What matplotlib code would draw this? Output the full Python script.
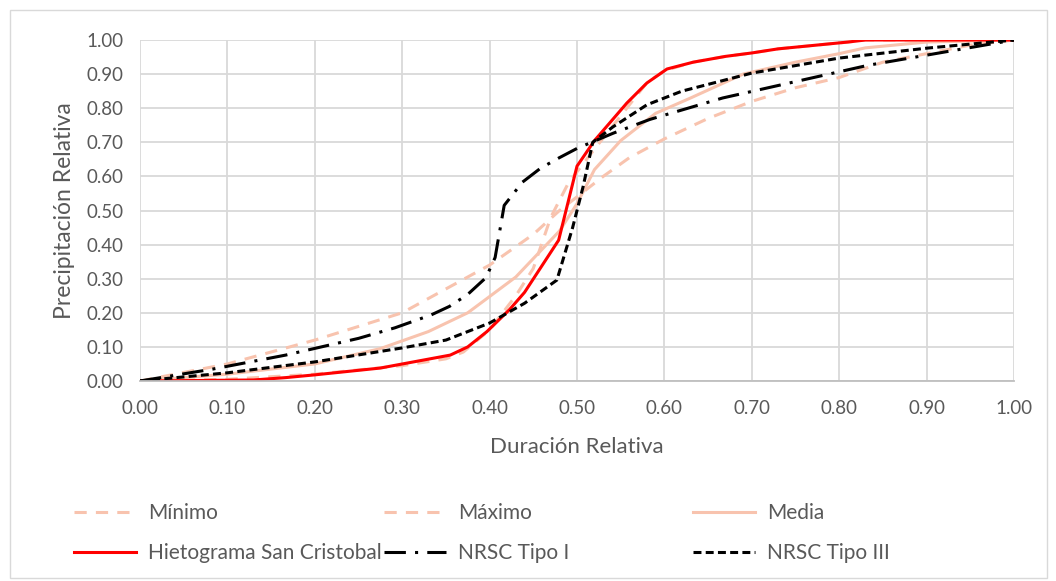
import matplotlib
matplotlib.use("Agg")
import matplotlib.pyplot as plt
from matplotlib.patches import Rectangle

# ---- data ----
x_min = [0.0, 0.10, 0.20, 0.30, 0.35, 0.40, 0.45, 0.48, 0.50, 0.53, 0.56, 0.60, 0.65, 0.70, 0.75, 0.80, 0.85, 0.90, 0.95, 1.0]
y_min = [0.0, 0.05, 0.12, 0.20, 0.27, 0.34, 0.43, 0.50, 0.54, 0.60, 0.655, 0.71, 0.77, 0.82, 0.86, 0.89, 0.935, 0.96, 0.985, 1.0]

x_max = [0.0, 0.10, 0.20, 0.30, 0.35, 0.37, 0.40, 0.43, 0.45, 0.47, 0.49, 0.52, 0.56, 0.58, 0.60, 0.633, 0.67, 0.70, 0.73, 0.81, 0.83, 1.0]
y_max = [0.0, 0.005, 0.02, 0.045, 0.065, 0.085, 0.15, 0.25, 0.33, 0.48, 0.58, 0.68, 0.81, 0.875, 0.91, 0.935, 0.952, 0.962, 0.974, 0.994, 1.0, 1.0]

x_media = [0.0, 0.10, 0.20, 0.275, 0.33, 0.375, 0.43, 0.48, 0.50, 0.52, 0.55, 0.59, 0.63, 0.69, 0.75, 0.80, 0.83, 0.90, 1.0]
y_media = [0.0, 0.02, 0.05, 0.095, 0.145, 0.20, 0.305, 0.44, 0.52, 0.62, 0.705, 0.785, 0.83, 0.90, 0.935, 0.96, 0.977, 0.994, 1.0]

x_hiet = [0.0, 0.13, 0.167, 0.20, 0.275, 0.355, 0.375, 0.397, 0.423, 0.44, 0.479, 0.50, 0.52, 0.557, 0.58, 0.603, 0.633, 0.67, 0.70, 0.73, 0.81, 0.83, 1.0]
y_hiet = [0.0, 0.003, 0.01, 0.018, 0.038, 0.076, 0.10, 0.145, 0.21, 0.26, 0.413, 0.63, 0.705, 0.815, 0.874, 0.915, 0.935, 0.952, 0.962, 0.974, 0.994, 1.0, 1.0]

x_tipo1 = [0.0, 0.0833, 0.1667, 0.25, 0.2917, 0.3333, 0.3542, 0.375, 0.3958, 0.4063, 0.4167, 0.4375, 0.4583, 0.4792, 0.50, 0.5417, 0.5833, 0.6667, 0.8333, 1.0]
y_tipo1 = [0.0, 0.035, 0.076, 0.125, 0.156, 0.194, 0.219, 0.254, 0.303, 0.362, 0.515, 0.583, 0.624, 0.654, 0.682, 0.727, 0.767, 0.830, 0.926, 1.0]

x_tipo3 = [0.0, 0.10, 0.20, 0.30, 0.35, 0.40, 0.44, 0.477, 0.495, 0.507, 0.518, 0.541, 0.58, 0.62, 0.70, 0.80, 0.90, 1.0]
y_tipo3 = [0.0, 0.024, 0.056, 0.097, 0.12, 0.17, 0.228, 0.296, 0.45, 0.57, 0.70, 0.745, 0.81, 0.85, 0.903, 0.947, 0.976, 1.0]

x_ticks = [0.0, 0.1, 0.2, 0.3, 0.4, 0.5, 0.6, 0.7, 0.8, 0.9, 1.0]
y_ticks = [0.0, 0.1, 0.2, 0.3, 0.4, 0.5, 0.6, 0.7, 0.8, 0.9, 1.0]

plt.rcParams['font.family'] = ['Lato', 'DejaVu Sans']

W, H = 1056, 581
fig = plt.figure(figsize=(W / 100, H / 100), dpi=100)
ax = fig.add_axes([140 / W, 1 - 381 / H, (1014 - 140) / W, (381 - 40) / H])

pale = '#f8c3ae'
lw = 2.2
l_min, = ax.plot(x_min, y_min, color=pale, lw=lw, dashes=(4, 3), label='Mínimo')
l_max, = ax.plot(x_max, y_max, color=pale, lw=lw, dashes=(4, 3), label='Máximo')
l_med, = ax.plot(x_media, y_media, color=pale, lw=lw, label='Media')
l_hie, = ax.plot(x_hiet, y_hiet, color='#ff0000', lw=lw, label='Hietograma San Cristobal')
l_t1, = ax.plot(x_tipo1, y_tipo1, color='black', lw=lw, dashes=(7, 3, 1, 3), label='NRSC Tipo I')
l_t3, = ax.plot(x_tipo3, y_tipo3, color='black', lw=lw, dashes=(2.6, 1.4), label='NRSC Tipo III')

ax.set_xlim(0, 1)
ax.set_ylim(0, 1)
ax.set_xticks(x_ticks)
ax.set_yticks(y_ticks)
ax.set_xticklabels([f'{v:.2f}' for v in x_ticks])
ax.set_yticklabels([f'{v:.2f}' for v in y_ticks])
ax.grid(True, color='#d9d9d9', lw=1.3)
ax.set_axisbelow(True)
for s in ['top', 'right', 'left']:
    ax.spines[s].set_visible(False)
ax.spines['bottom'].set_color('#bfbfbf')
ax.spines['bottom'].set_linewidth(1.3)
ax.tick_params(axis='x', length=0, labelsize=13.5, colors='#595959', pad=14)
ax.tick_params(axis='y', length=0, labelsize=13.5, colors='#595959', pad=12)
ax.set_xlabel('Duración Relativa', fontsize=16, color='#595959', labelpad=14)
ax.set_ylabel('Precipitación Relativa', fontsize=16.5, color='#595959', labelpad=8)

# legend: three columns at fixed positions
cols = [(78, [l_min, l_hie]), (388, [l_max, l_t1]), (697, [l_med, l_t3])]
for xpix, hs in cols:
    leg = fig.legend(handles=hs, labels=[h.get_label() for h in hs],
                     loc='upper left', bbox_to_anchor=(xpix / W - 0.004, 1 - 503 / H),
                     frameon=False, fontsize=15, handlelength=3.0, handletextpad=0.55,
                     labelspacing=0.95, borderpad=0, borderaxespad=0)
    for t in leg.get_texts():
        t.set_color('#595959')

fig.patches.append(Rectangle((10 / W, 3 / H), 1037 / W, 568 / H, transform=fig.transFigure,
                             fill=False, edgecolor='#d9d9d9', lw=1.0))

fig.savefig('out.png', dpi=100)
